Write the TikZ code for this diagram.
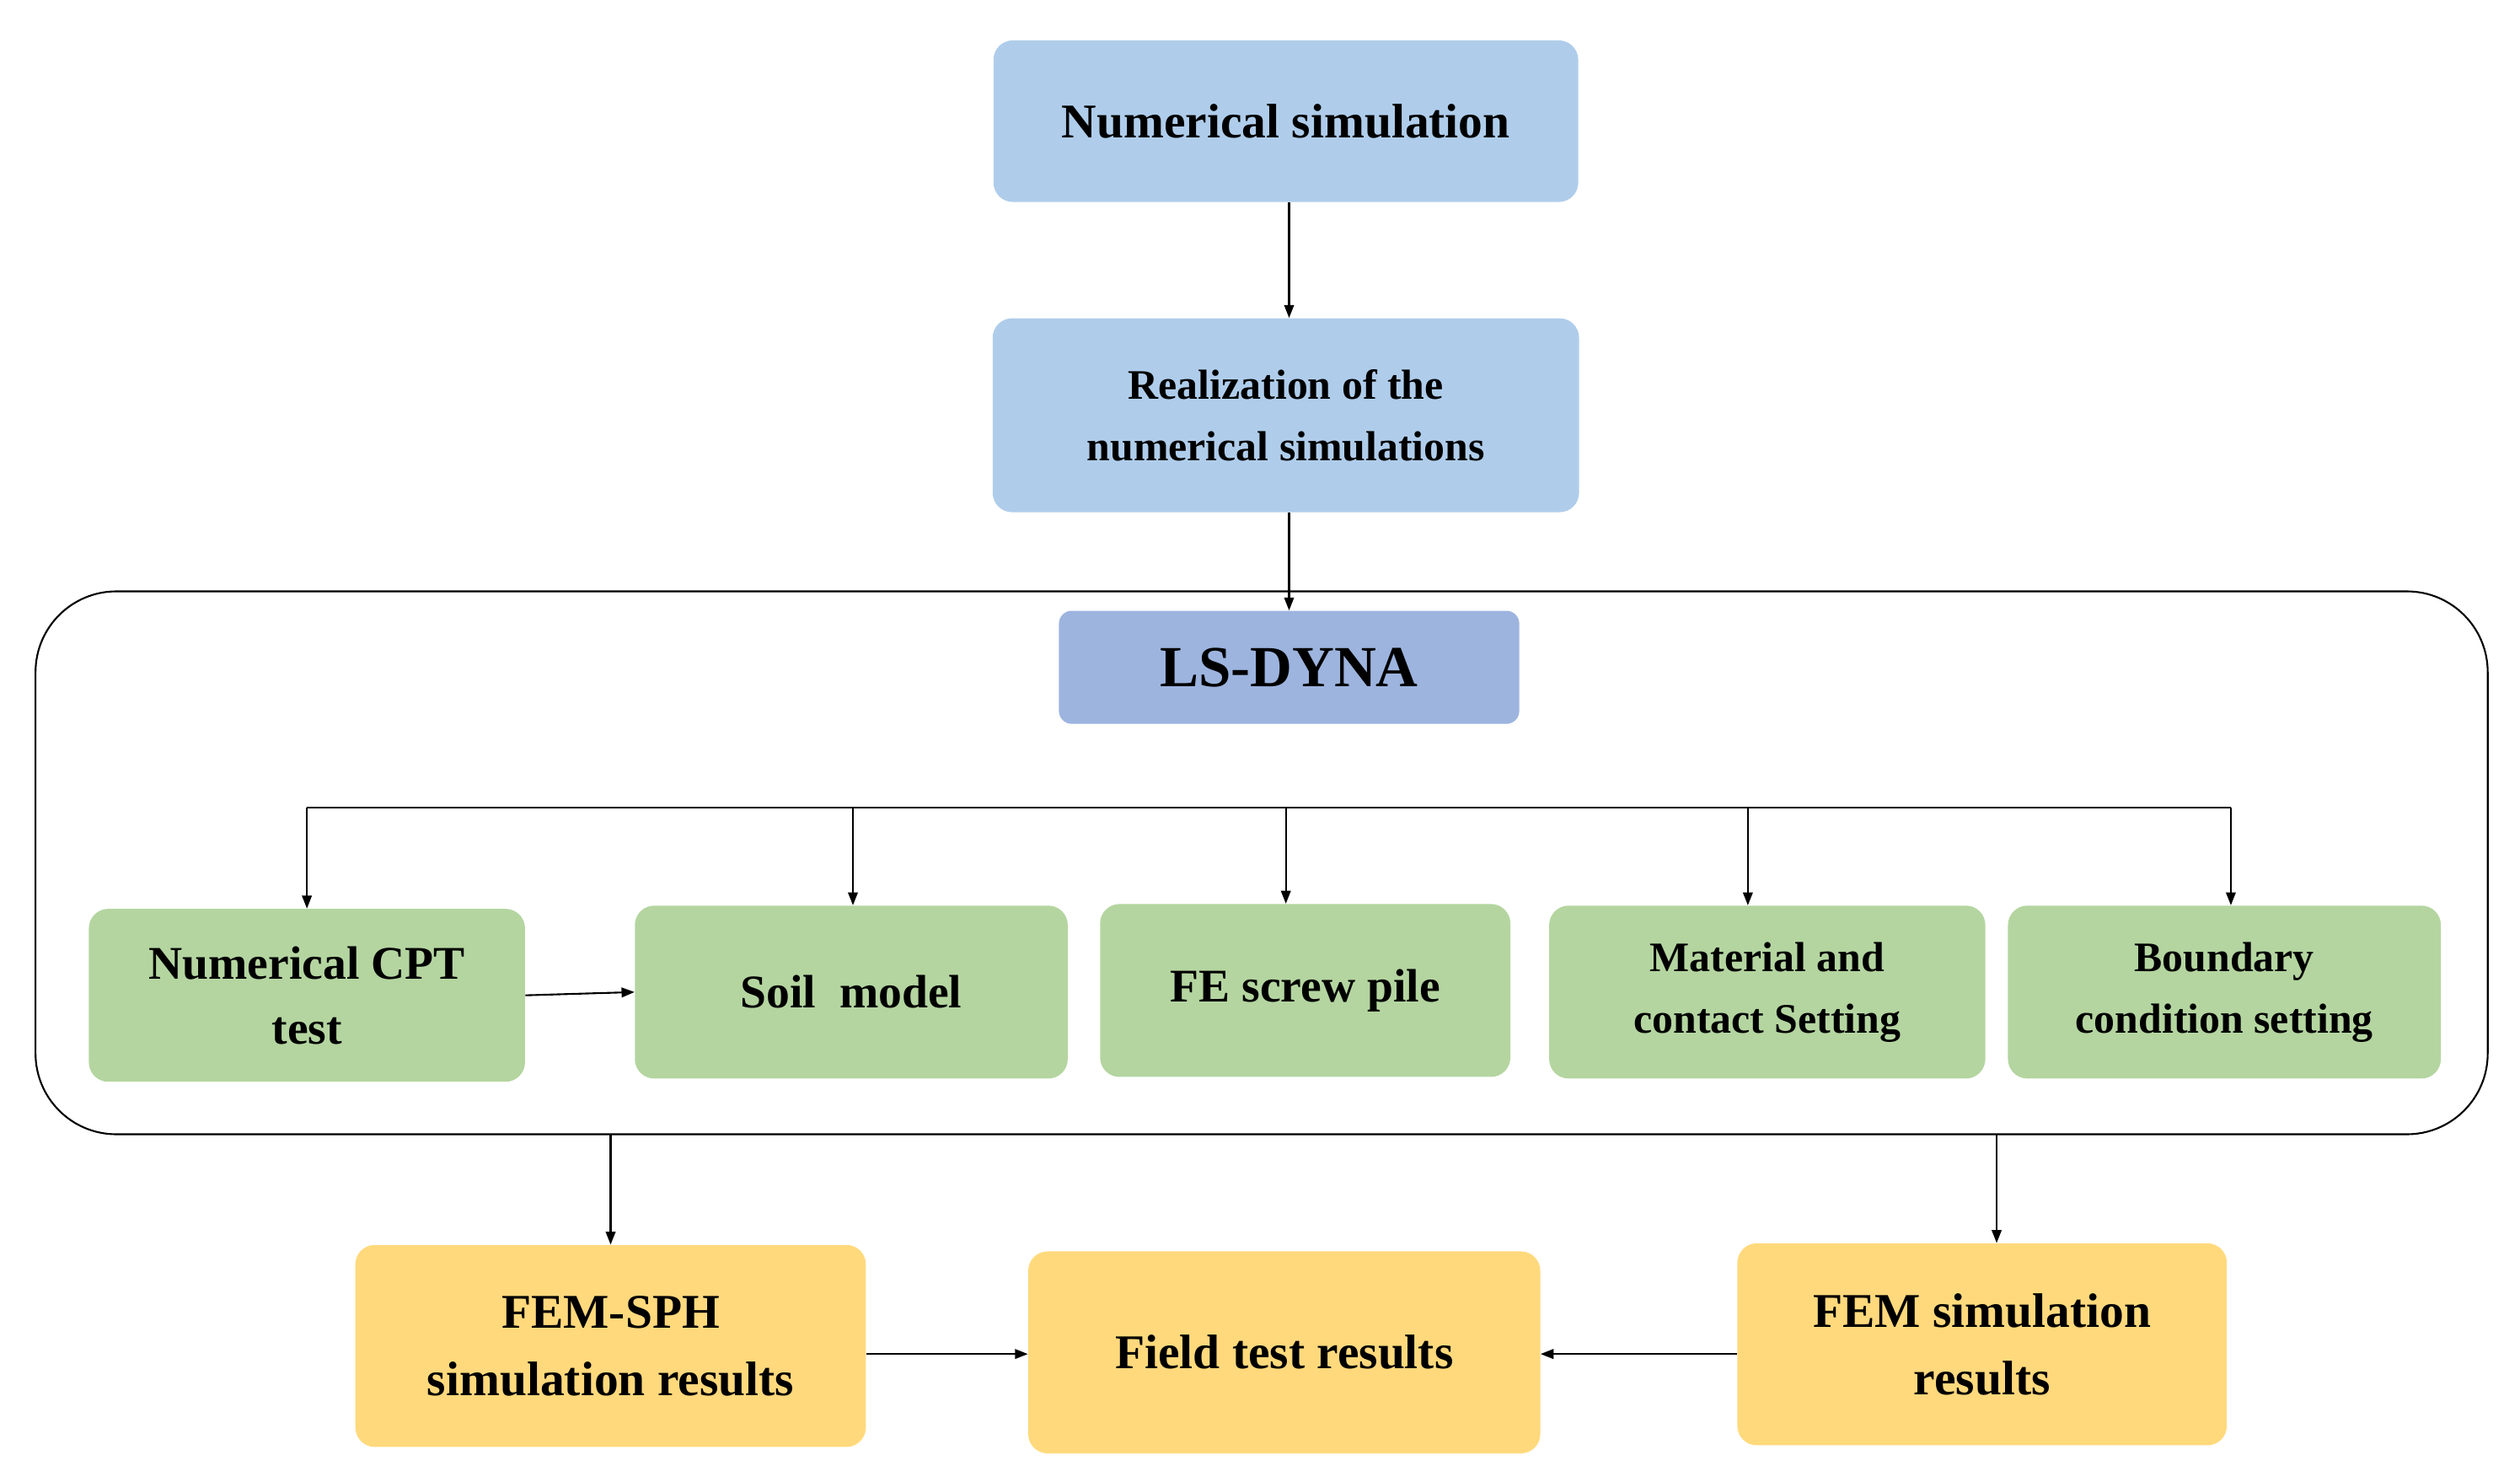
\documentclass[tikz,border=0pt]{standalone}
\usepackage{fontspec}
\setmainfont{Liberation Serif}
\usetikzlibrary{arrows.meta}
\definecolor{bl}{HTML}{AFCDEB}
\definecolor{ls}{HTML}{9DB4DF}
\definecolor{gr}{HTML}{B4D5A0}
\definecolor{ye}{HTML}{FFD97C}
\begin{document}
\begin{tikzpicture}[x=1pt,y=-1pt,
 box/.style={draw=none,rounded corners=12pt,align=center,font=\bfseries,inner sep=0pt},
 arr/.style={-{Triangle[length=8pt,width=6pt]},line width=1.1pt}]
\useasboundingbox (0,0) rectangle (1560,917);
\node[box,fill=bl,minimum width=362,minimum height=100,font=\bfseries\fontsize{30}{34}\selectfont] (ns) at (796,75) {Numerical simulation};
\node[box,fill=bl,minimum width=363,minimum height=120,font=\bfseries\fontsize{26}{38}\selectfont] (re) at (796,257) {Realization of the\\numerical simulations};
\draw[line width=1.1pt,rounded corners=50pt] (22,366) rectangle (1540,702);
\node[box,fill=ls,minimum width=285,minimum height=70,rounded corners=8pt,font=\bfseries\fontsize{36}{40}\selectfont] (ls) at (798,413) {LS-DYNA};
\tikzset{g/.style={box,fill=gr,minimum height=107,font=\bfseries\fontsize{29}{40}\selectfont}}
\node[g,minimum width=270] (cpt) at (190,616) {Numerical CPT\\test};
\node[g,minimum width=268] (soil) at (527,614) {Soil\ \ model};
\node[g,minimum width=254] (fe) at (808,613) {FE screw pile};
\node[g,minimum width=270,font=\bfseries\fontsize{26}{38}\selectfont] (mat) at (1094,614) {Material and\\contact Setting};
\node[g,minimum width=268,font=\bfseries\fontsize{26}{38}\selectfont] (bc) at (1377,614) {Boundary\\condition setting};
\tikzset{yb/.style={box,fill=ye,minimum height=125,font=\bfseries\fontsize{30}{42}\selectfont}}
\node[yb,minimum width=316] (sph) at (378,833) {FEM-SPH\\simulation results};
\node[yb,minimum width=317] (ft) at (795,837) {Field test results};
\node[yb,minimum width=303] (fem) at (1227,832) {FEM simulation\\results};
\draw[arr] (ns.south -| 798,0) -- (re.north -| 798,0);
\draw[arr] (re.south -| 798,0) -- (ls.north -| 798,0);
\coordinate (l) at (190,500); \coordinate (r) at (1381,500);
\draw[line width=1.1pt] (l) -- (r);
\draw[arr] (l) -- (cpt.north -| l);
\draw[arr] (528,500) -- (soil.north -| 528,0);
\draw[arr] (796,500) -- (fe.north -| 796,0);
\draw[arr] (1082,500) -- (mat.north -| 1082,0);
\draw[arr] (r) -- (bc.north -| r);
\draw[arr] (cpt.east) -- (soil.west);
\coordinate (b1) at (378,702); \coordinate (b2) at (1236,702);
\draw[arr] (b1) -- (sph.north -| b1);
\draw[arr] (b2) -- (fem.north -| b2);
\draw[arr] (sph.east |- 0,838) -- (ft.west |- 0,838);
\draw[arr] (fem.west |- 0,838) -- (ft.east |- 0,838);
\end{tikzpicture}
\end{document}
